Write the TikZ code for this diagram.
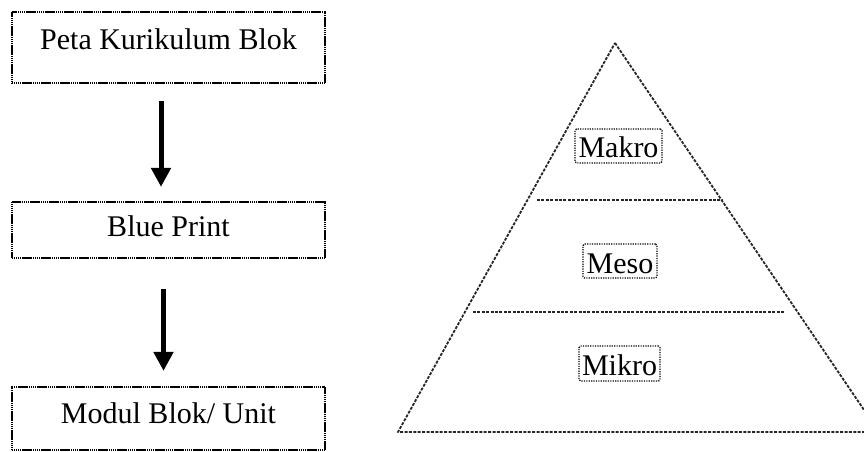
\documentclass[tikz,border=0pt]{standalone}
\usepackage{fontspec}
\setmainfont{Liberation Serif}
\usetikzlibrary{arrows.meta}
\tikzset{
  blockbox/.style={draw=black, line width=2.2pt, dash pattern=on 1.4pt off 0.5pt,
    inner sep=0pt, minimum width=313pt, font=\fontsize{30}{36}\selectfont},
  levelbox/.style={draw=black, line width=1.4pt, dash pattern=on 1.2pt off 1.2pt,
    rounded corners=1.5pt, inner sep=0pt, font=\fontsize{30}{36}\selectfont},
  bigarrow/.style={line width=5pt, -{Triangle[width=19pt,length=19pt]}},
  pyr/.style={draw=black!85, line width=1.8pt, dash pattern=on 3pt off 1.4pt}
}
\begin{document}
\begin{tikzpicture}[x=1pt,y=-1pt]
\useasboundingbox (0,0) rectangle (864,452);
\clip (0,0) rectangle (864,452);
% flow boxes
\node[blockbox, text height=37pt, text depth=34pt] (b1) at (168.5,47.5) {Peta Kurikulum Blok};
\node[blockbox, text height=34pt, text depth=22pt] (b2) at (168.5,230) {Blue Print};
\node[blockbox, text height=36pt, text depth=27pt] (b3) at (168.5,418.5) {Modul Blok/ Unit};
\draw[bigarrow, shorten <=17pt, shorten >=14pt] ([xshift=-7.5pt]b1.south) -- ([xshift=-7.5pt]b2.north);
\draw[bigarrow, shorten <=30pt, shorten >=15pt] ([xshift=-5pt]b2.south) -- ([xshift=-5pt]b3.north);
% pyramid
\coordinate (apex) at (615,43);
\coordinate (bl) at (398,432);
\coordinate (br) at (879,432);
\draw[pyr, line join=round] (apex) -- (br) -- (bl) -- cycle;
\coordinate (l1a) at (537,200);
\coordinate (l1b) at (722,200);
\coordinate (l2a) at (473,312);
\coordinate (l2b) at (784,312);
\draw[pyr] (l1a) -- (l1b);
\draw[pyr] (l2a) -- (l2b);
\node[levelbox, minimum width=87pt, text height=28pt, text depth=6pt] (makro) at (618.5,146) {Makro};
\node[levelbox, minimum width=74pt, text height=29pt, text depth=5pt] (meso) at (620,261) {Meso};
\node[levelbox, minimum width=81pt, text height=29pt, text depth=6pt] (mikro) at (619.5,363.5) {Mikro};
\end{tikzpicture}
\end{document}
